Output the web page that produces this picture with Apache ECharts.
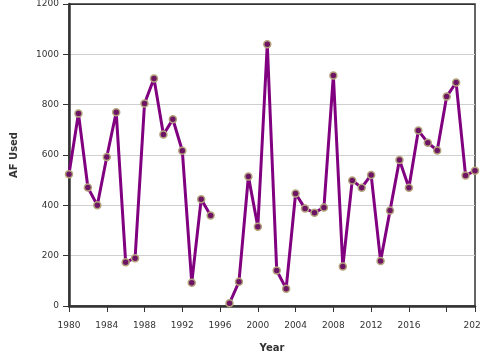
<!DOCTYPE html>
<html><head><meta charset="utf-8">
<script src="https://cdn.jsdelivr.net/npm/echarts@6/dist/echarts.min.js"></script>
<style>html,body{margin:0;padding:0;background:#fff}#c{width:480px;height:360px}</style>
</head><body><div id="c"></div>
<script>
const years = [1980,1981,1982,1983,1984,1985,1986,1987,1988,1989,1990,1991,1992,1993,1994,1995,1996,1997,1998,1999,2000,2001,2002,2003,2004,2005,2006,2007,2008,2009,2010,2011,2012,2013,2014,2015,2016,2017,2018,2019,2020,2021,2022,2023];
const afUsed = [524,765,471,400,592,770,174,190,805,904,681,742,617,92,424,360,null,11,96,515,315,1040,141,69,447,387,371,391,916,157,499,470,521,179,379,580,470,697,649,618,832,888,519,537];
const xTicksHidden = [2020];
const seriesData = years.map((y,i)=>[y, afUsed[i]]);
const font = 'DejaVu Sans';
const chart = echarts.init(document.getElementById('c'));
chart.setOption({
  animation:false,
  grid:{left:69,right:5,top:4,bottom:54,outerBoundsMode:'none',containLabel:false,show:true,borderColor:'#333',borderWidth:1.5,backgroundColor:'transparent'},
  xAxis:{type:'value',min:1980,max:2023,interval:4,
    name:'Year',nameLocation:'middle',nameGap:37,
    nameTextStyle:{fontFamily:font,fontSize:10,fontWeight:'bold',color:'#333'},
    axisLine:{show:true,onZero:false,lineStyle:{color:'#333',width:2.5}},
    axisTick:{show:true,length:6,lineStyle:{color:'#333'}},
    axisLabel:{fontFamily:font,fontSize:9,color:'#333',margin:15,showMaxLabel:true,hideOverlap:false,
      formatter:v=>xTicksHidden.includes(v)?'':String(v)},
    splitLine:{show:false}},
  yAxis:{type:'value',min:0,max:1200,interval:200,
    name:'AF Used',nameLocation:'middle',nameGap:50,
    nameTextStyle:{fontFamily:font,fontSize:10,fontWeight:'bold',color:'#333'},
    axisLine:{show:true,lineStyle:{color:'#333',width:2.5}},
    axisTick:{show:true,length:6,lineStyle:{color:'#333'}},
    axisLabel:{fontFamily:font,fontSize:9,color:'#333',margin:10,formatter:v=>String(v)},
    splitLine:{show:true,lineStyle:{color:['#d0d0d0','#d0d0d0','#d0d0d0','#d0d0d0','#d0d0d0','#d0d0d0','#333'],width:1}}},
  series:[{type:'line',data:seriesData,connectNulls:false,
    lineStyle:{color:'#800080',width:3},
    symbol:'circle',symbolSize:7,
    itemStyle:{color:'#6e1464',borderColor:'#b3a37c',borderWidth:1.5},
    z:3}]
});
</script></body></html>
